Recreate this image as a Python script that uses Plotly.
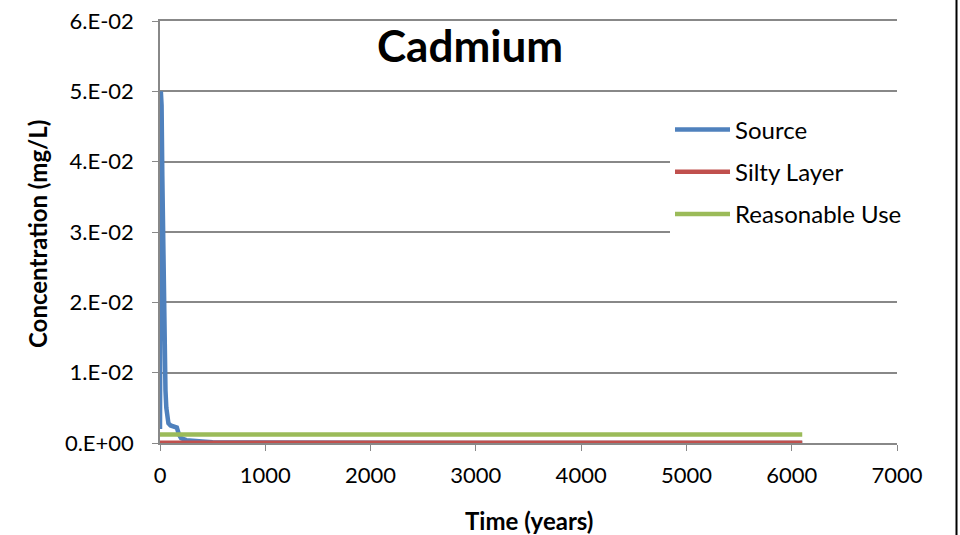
import plotly.graph_objects as go

# Data
source_t = [0, 8, 15, 22, 30, 38, 45, 52, 60, 70, 80, 100, 130, 160, 180, 200, 250, 300, 400, 500, 1000, 2000, 3000, 4000, 5000, 6100]
source_v = [0.0020, 0.0500, 0.0480, 0.0380, 0.0260, 0.0170, 0.0110, 0.0075, 0.0050, 0.0035, 0.0028, 0.0025, 0.0024, 0.0022, 0.0012, 0.0007, 0.0004, 0.0003, 0.0002, 0.0001, 0.00005, 0.00002, 0.00001, 0.00001, 0.00001, 0.00001]

silty_t = [0, 1000, 2000, 3000, 4000, 5000, 6100]
silty_v = [0.00002, 0.00002, 0.00002, 0.00002, 0.00002, 0.00002, 0.00002]

reason_t = [0, 1000, 2000, 3000, 4000, 5000, 6100]
reason_v = [0.0012, 0.0012, 0.0012, 0.0012, 0.0012, 0.0012, 0.0012]

y_tickvals = [0, 0.01, 0.02, 0.03, 0.04, 0.05, 0.06]
y_ticktext = ["0.E+00", "1.E-02", "2.E-02", "3.E-02", "4.E-02", "5.E-02", "6.E-02"]
x_tickvals = [0, 1000, 2000, 3000, 4000, 5000, 6000, 7000]

FONT = "Lato"
GRID = "#888888"

fig = go.Figure()
fig.add_trace(go.Scatter(x=source_t, y=source_v, mode="lines", name="Source",
                         line=dict(color="#4F81BD", width=4.5), legendgroup="a"))
fig.add_trace(go.Scatter(x=silty_t, y=silty_v, mode="lines", name="Silty Layer",
                         line=dict(color="#C0504D", width=4.5), legendgroup="b"))
fig.add_trace(go.Scatter(x=reason_t, y=reason_v, mode="lines", name="Reasonable Use",
                         line=dict(color="#9BBB59", width=4.5), legendgroup="c"))

fig.update_layout(
    width=960, height=535,
    margin=dict(l=160, r=63, t=21, b=92, autoexpand=False),
    paper_bgcolor="white", plot_bgcolor="white",
    font=dict(family=FONT, size=22, color="black"),
    showlegend=True,
    legend=dict(x=0.692, y=0.795, xanchor="left", yanchor="top",
                bgcolor="white", font=dict(size=24, family=FONT),
                tracegroupgap=8, itemwidth=55),
    xaxis=dict(range=[0, 7000], tickvals=x_tickvals, showgrid=False, automargin=False,
               showline=True, mirror=True, linecolor=GRID, linewidth=1.5,
               ticks="outside", ticklen=6, tickcolor=GRID, zeroline=False,
               ticklabelstandoff=6, tickfont=dict(size=22, family=FONT)),
    yaxis=dict(range=[0, 0.06], tickvals=y_tickvals, ticktext=y_ticktext, automargin=False,
               showgrid=True, gridcolor=GRID, gridwidth=1.5,
               showline=True, linecolor=GRID, linewidth=1.5,
               ticks="outside", ticklen=6, tickcolor=GRID, zeroline=False,
               ticklabeloverflow="allow",
               ticklabelstandoff=14, tickfont=dict(size=22, family=FONT)),
    annotations=[
        dict(text="<b>Cadmium</b>", x=(470 - 160) / 737, y=(443 - 45) / 422, xref="paper", yref="paper",
             showarrow=False, font=dict(size=44, family=FONT), xanchor="center", yanchor="middle"),
        dict(text="<b>Time (years)</b>", x=(529 - 160) / 737, y=(443 - 520) / 422, xref="paper", yref="paper",
             showarrow=False, font=dict(size=24, family=FONT), xanchor="center", yanchor="middle"),
        dict(text="<b>Concentration (mg/L)</b>", x=(38 - 160) / 737, y=(443 - 234) / 422, xref="paper", yref="paper",
             showarrow=False, textangle=-90, font=dict(size=24, family=FONT),
             xanchor="center", yanchor="middle"),
    ],
    shapes=[
        dict(type="rect", xref="paper", yref="paper", x0=(955.5 - 160) / 737, x1=(957.5 - 160) / 737,
             y0=(443 - 535) / 422, y1=443 / 422, fillcolor="black",
             line=dict(width=0), layer="above"),
    ],
)

fig.write_html("out.html", config={"displayModeBar": False},
               post_script="document.body.style.margin='0';document.body.style.overflow='hidden';")
